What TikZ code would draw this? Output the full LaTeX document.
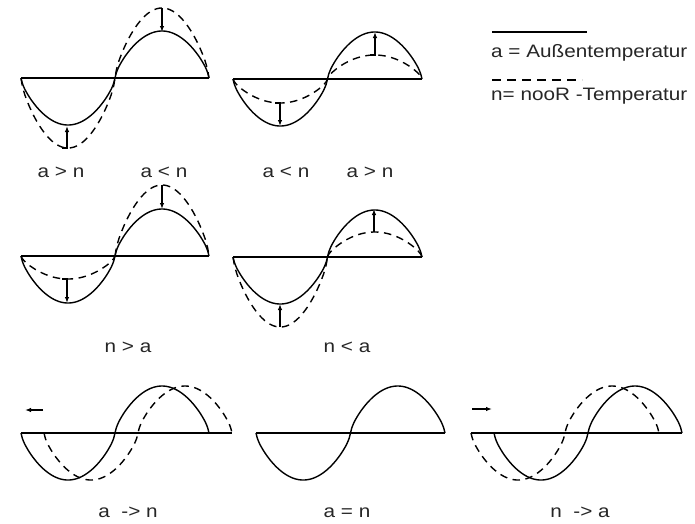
\documentclass[tikz,border=0pt]{standalone}
\usepackage{fontspec}
\setmainfont{Liberation Sans}[FakeStretch=1.15]
\usetikzlibrary{arrows.meta}
% lobe profile: sign(sin) * |sin|^0.7
\newcommand\myprof[1]{((sin(#1)>=0?1:-1)*pow(abs(sin(#1))+0.00001,0.7))}
\newcommand\mywave[5]{% x0, y0, width, amplitude, style
  \draw[#5] plot[domain=0:360,samples=145] ({#1+\x/360*#3},{#2+#4*\myprof{\x}});}
\newcommand\myhalf[6]{% x0, y0, width, amplitude, style, domain
  \draw[#5] plot[domain=#6,samples=73] ({#1+\x/360*#3},{#2+#4*\myprof{\x}});}
\tikzset{
  axisline/.style={line width=2.2pt},
  solidcurve/.style={line width=1.4pt, line join=round},
  dashcurve/.style={line width=1.4pt, dash pattern=on 7.5pt off 5.5pt},
  marrow/.style={line width=2pt, -{Latex[length=6pt,width=4.5pt]}},
  lbl/.style={font=\fontsize{18}{20}\selectfont, inner sep=0pt, anchor=base, text=black!85},
}
\begin{document}
\begin{tikzpicture}[x=1pt,y=-1pt]
\useasboundingbox (0,0) rectangle (695,523);
% ---------- Panel 1 ----------
\draw[axisline] (21,78) -- (209,78);
\mywave{21}{78}{188}{47}{solidcurve}
\mywave{21}{78}{188}{70}{dashcurve}
\draw[marrow] (62,148) -- (67,148) -- (67,126);
\draw[marrow] (162,8) -- (162,32);
\node[lbl] (l1a) at (61,177) {a > n};
\node[lbl] (l1b) at (164,177) {a < n};
% ---------- Panel 2 ----------
\draw[axisline] (233,79) -- (422,79);
\mywave{233}{79}{189}{47}{solidcurve}
\mywave{233}{79}{189}{24}{dashcurve}
\draw[marrow] (275,103) -- (280,103) -- (280,126);
\draw[marrow] (370,55) -- (375,55) -- (375,32);
\node[lbl] (l2a) at (286,177) {a < n};
\node[lbl] (l2b) at (370,177) {a > n};
% ---------- Legend ----------
\draw[line width=1.6pt] (492,32) -- (587,32);
\node[lbl, anchor=base west] (leg1) at (491,57) {a = Außentemperatur};
\draw[line width=1.6pt, dash pattern=on 9pt off 6pt] (492,80) -- (582,80);
\node[lbl, anchor=base west] (leg2) at (491,100) {n= nooR -Temperatur};
% ---------- Panel 3 ----------
\draw[axisline] (21,256) -- (209,256);
\mywave{21}{256}{188}{47}{solidcurve}
\myhalf{21}{256}{188}{23}{dashcurve}{0:180}
\myhalf{21}{256}{188}{71}{dashcurve}{180:360}
\draw[marrow] (62,279) -- (67,279) -- (67,303);
\draw[marrow] (162,185) -- (162,209);
\node[lbl] (l3) at (128,352) {n > a};
% ---------- Panel 4 ----------
\draw[axisline] (233,257) -- (422,257);
\mywave{233}{257}{189}{47}{solidcurve}
\myhalf{233}{257}{189}{70}{dashcurve}{0:180}
\myhalf{233}{257}{189}{25}{dashcurve}{180:360}
\draw[marrow] (280,327) -- (280,304);
\draw[marrow] (374,232) -- (374,209);
\node[lbl] (l4) at (347,352) {n < a};
% ---------- Panel 5 ----------
\draw[axisline] (21,433) -- (232,433);
\mywave{21}{433}{188}{47}{solidcurve}
\mywave{44}{433}{188}{47}{dashcurve}
\draw[marrow] (43,410) -- (25,410);
\node[lbl] (l5) at (128,517) {a \ -> n};
% ---------- Panel 6 ----------
\draw[axisline] (256,433) -- (445,433);
\mywave{256}{433}{189}{47}{solidcurve}
\node[lbl] (l6) at (347,517) {a = n};
% ---------- Panel 7 ----------
\draw[axisline] (471,433) -- (682,433);
\mywave{494}{433}{188}{47}{solidcurve}
\mywave{471}{433}{188}{47}{dashcurve}
\draw[marrow] (472,409) -- (492,409);
\node[lbl] (l7) at (580,517) {n \ -> a};
\end{tikzpicture}
\end{document}
